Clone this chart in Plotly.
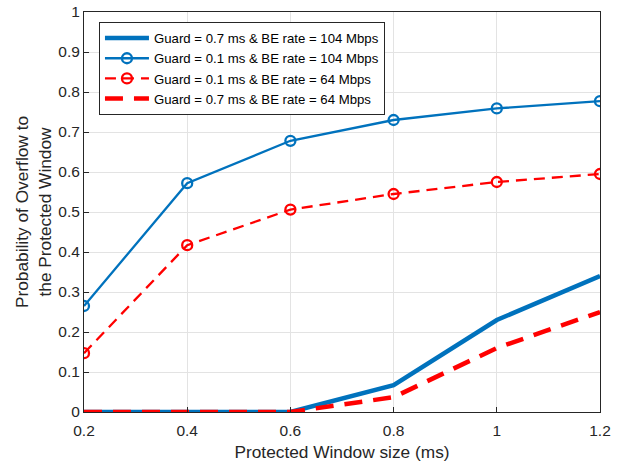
import plotly.graph_objects as go

x_vals = [0.2, 0.4, 0.6, 0.8, 1.0, 1.2]
blue_thick = [0, 0, 0, 0.067, 0.230, 0.340]
blue_circ = [0.265, 0.572, 0.678, 0.730, 0.759, 0.777]
red_circ = [0.147, 0.417, 0.506, 0.545, 0.575, 0.595]
red_thick = [0, 0, 0, 0.037, 0.160, 0.250]
names = ["Guard = 0.7 ms & BE rate = 104 Mbps",
         "Guard = 0.1 ms & BE rate = 104 Mbps",
         "Guard = 0.1 ms & BE rate = 64 Mbps",
         "Guard = 0.7 ms & BE rate = 64 Mbps"]
x_ticks = [0.2, 0.4, 0.6, 0.8, 1.0, 1.2]
x_tick_text = ["0.2", "0.4", "0.6", "0.8", "1", "1.2"]
y_ticks = [0, 0.1, 0.2, 0.3, 0.4, 0.5, 0.6, 0.7, 0.8, 0.9, 1.0]
y_tick_text = ["0", "0.1", "0.2", "0.3", "0.4", "0.5", "0.6", "0.7", "0.8", "0.9", "1"]

BLUE = "#0072BD"
RED = "#FF0000"

fig = go.Figure()
fig.add_trace(go.Scatter(x=x_vals, y=blue_thick, name=names[0], mode="lines",
                         line=dict(color=BLUE, width=4.5)))
fig.add_trace(go.Scatter(x=x_vals, y=blue_circ, name=names[1], mode="lines+markers",
                         line=dict(color=BLUE, width=2.3),
                         marker=dict(symbol="circle-open", size=10, color=BLUE, line=dict(width=2.3))))
fig.add_trace(go.Scatter(x=x_vals, y=red_circ, name=names[2], mode="lines+markers",
                         line=dict(color=RED, width=2.3, dash="11px,7px"),
                         marker=dict(symbol="circle-open", size=10, color=RED, line=dict(width=2.3))))
fig.add_trace(go.Scatter(x=x_vals, y=red_thick, name=names[3], mode="lines",
                         line=dict(color=RED, width=4.5, dash="18px,11px")))

axis_common = dict(showgrid=True, gridcolor="#E3E3E3", gridwidth=1,
                   showline=True, linecolor="#262626", linewidth=1, mirror=True,
                   ticks="inside", ticklen=5, tickcolor="#262626",
                   tickfont=dict(family="Liberation Sans, Arial", size=15.5, color="#262626"),
                   zeroline=False, automargin=False)

fig.update_layout(
    width=618, height=466,
    margin=dict(l=84, r=18, t=12, b=54),
    paper_bgcolor="white", plot_bgcolor="white",
    font=dict(family="Liberation Sans, Arial", color="#262626"),
    showlegend=True,
    legend=dict(x=0.029, y=0.975, xanchor="left", yanchor="top",
                bgcolor="white", bordercolor="#262626", borderwidth=1,
                font=dict(size=13.2, color="#000000"),
                tracegroupgap=0, itemwidth=44),
    xaxis=dict(range=[0.2, 1.2], tickvals=x_ticks, ticktext=x_tick_text,
               ticklabelstandoff=4,
               title=dict(text="Protected Window size (ms)", font=dict(size=17.3), standoff=8),
               **axis_common),
    yaxis=dict(range=[0, 1], tickvals=y_ticks, ticktext=y_tick_text,
               title=dict(text="Probability of Overflow to<br>the Protected Window", font=dict(size=17.3), standoff=2),
               **axis_common),
)

fig.write_html("out.html")
